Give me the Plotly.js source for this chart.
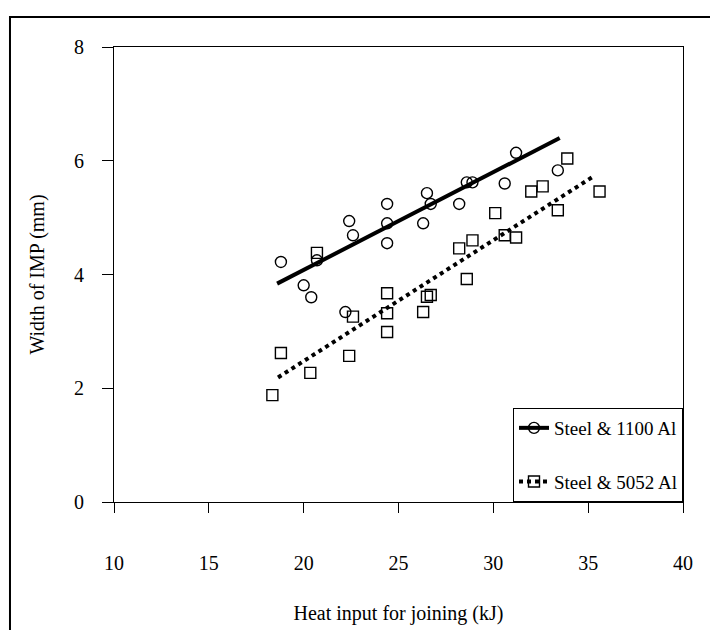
<!DOCTYPE html>
<html>
<head>
<meta charset="utf-8">
<script src="https://cdn.plot.ly/plotly-3.0.1.min.js"></script>
<style>html,body{margin:0;padding:0;background:#fff;}#chart{width:710px;height:630px;}</style>
</head>
<body>
<div id="chart"></div>
<script>
// Steel & 1100 Al measurements
var x1100 = [18.8, 20.0, 20.4, 20.7, 22.2, 22.4, 22.6, 24.4, 24.4, 24.4, 26.3, 26.5, 26.7, 28.2, 28.6, 28.9, 30.6, 31.2, 33.4];
var y1100 = [4.22, 3.81, 3.60, 4.25, 3.34, 4.94, 4.69, 5.24, 4.90, 4.55, 4.90, 5.43, 5.24, 5.24, 5.62, 5.62, 5.60, 6.14, 5.83];
// Steel & 5052 Al measurements
var x5052 = [18.35, 18.8, 20.35, 20.7, 22.4, 22.6, 24.4, 24.4, 24.4, 26.3, 26.5, 26.7, 28.2, 28.6, 28.9, 30.1, 30.6, 31.2, 32.0, 32.6, 33.4, 33.9, 35.6];
var y5052 = [1.88, 2.62, 2.27, 4.38, 2.57, 3.26, 3.67, 3.32, 2.99, 3.34, 3.61, 3.64, 4.46, 3.92, 4.60, 5.08, 4.69, 4.65, 5.46, 5.55, 5.13, 6.04, 5.46];
// Trend line end points
var fit1100X = [18.6, 33.5];
var fit1100Y = [3.84, 6.40];
var fit5052X = [18.65, 35.3];
var fit5052Y = [2.19, 5.73];
var seriesNames = ['Steel & 1100 Al', 'Steel & 5052 Al'];
var xTicks = [10, 15, 20, 25, 30, 35, 40];
var yTicks = [0, 2, 4, 6, 8];

var FONT = 'Liberation Serif';

var traces = [
  {x: x1100, y: y1100, type: 'scatter', mode: 'markers', showlegend: false,
   marker: {symbol: 'circle-open', size: 11, color: '#000', line: {width: 1.4, color: '#000'}}},
  {x: x5052, y: y5052, type: 'scatter', mode: 'markers', showlegend: false,
   marker: {symbol: 'square-open', size: 11, color: '#000', line: {width: 1.4, color: '#000'}}},
  {x: fit1100X, y: fit1100Y, type: 'scatter', mode: 'lines', showlegend: false,
   line: {color: '#000', width: 4}},
  {x: fit5052X, y: fit5052Y, type: 'scatter', mode: 'lines', showlegend: false,
   line: {color: '#000', width: 4, dash: 'dot'}},
  // legend entries (no data points)
  {x: [null], y: [null], type: 'scatter', mode: 'lines+markers', name: seriesNames[0], legendgroup: 'a',
   line: {color: '#000', width: 4},
   marker: {symbol: 'circle-open', size: 11, color: '#000', line: {width: 1.4, color: '#000'}}},
  {x: [null], y: [null], type: 'scatter', mode: 'lines+markers', name: seriesNames[1], legendgroup: 'b',
   line: {color: '#000', width: 4, dash: 'dot'},
   marker: {symbol: 'square-open', size: 11, color: '#000', line: {width: 1.4, color: '#000'}}}
];

var layout = {
  width: 710, height: 630,
  margin: {l: 114, r: 27, t: 47, b: 128},
  paper_bgcolor: '#fff', plot_bgcolor: '#fff',
  font: {family: FONT, size: 20, color: '#000'},
  xaxis: {
    range: [10, 40], tickvals: xTicks, ticktext: xTicks.map(String),
    showgrid: false, zeroline: false, showline: true, mirror: true,
    linecolor: '#000', linewidth: 1, ticks: 'outside', ticklen: 10, tickcolor: '#000',
    ticklabelstandoff: 33,
    tickfont: {family: FONT, size: 20, color: '#000'},
    title: {text: 'Heat input for joining (kJ)', font: {family: FONT, size: 20, color: '#000'}, standoff: 32}
  },
  yaxis: {
    range: [0, 8], tickvals: yTicks, ticktext: yTicks.map(String),
    showgrid: false, zeroline: false, showline: true, mirror: true,
    linecolor: '#000', linewidth: 1, ticks: 'outside', ticklen: 11, tickcolor: '#000',
    ticklabelstandoff: 14,
    tickfont: {family: FONT, size: 20, color: '#000'},
    title: {text: 'Width of IMP (mm)', font: {family: FONT, size: 20, color: '#000'}, standoff: 24}
  },
  legend: {
    x: 1, y: 0, xanchor: 'right', yanchor: 'bottom',
    bgcolor: '#fff', bordercolor: '#000', borderwidth: 1,
    font: {family: FONT, size: 19, color: '#000'},
    traceorder: 'grouped', tracegroupgap: 26
  },
  shapes: [
    {type: 'rect', xref: 'paper', yref: 'paper', x0: -0.1828, x1: 1.1, y0: -0.35, y1: 1.0659,
     line: {color: '#000', width: 2}, fillcolor: 'rgba(0,0,0,0)', layer: 'below'}
  ],
  showlegend: true
};

Plotly.newPlot('chart', traces, layout, {displayModeBar: false, staticPlot: true});
</script>
</body>
</html>
